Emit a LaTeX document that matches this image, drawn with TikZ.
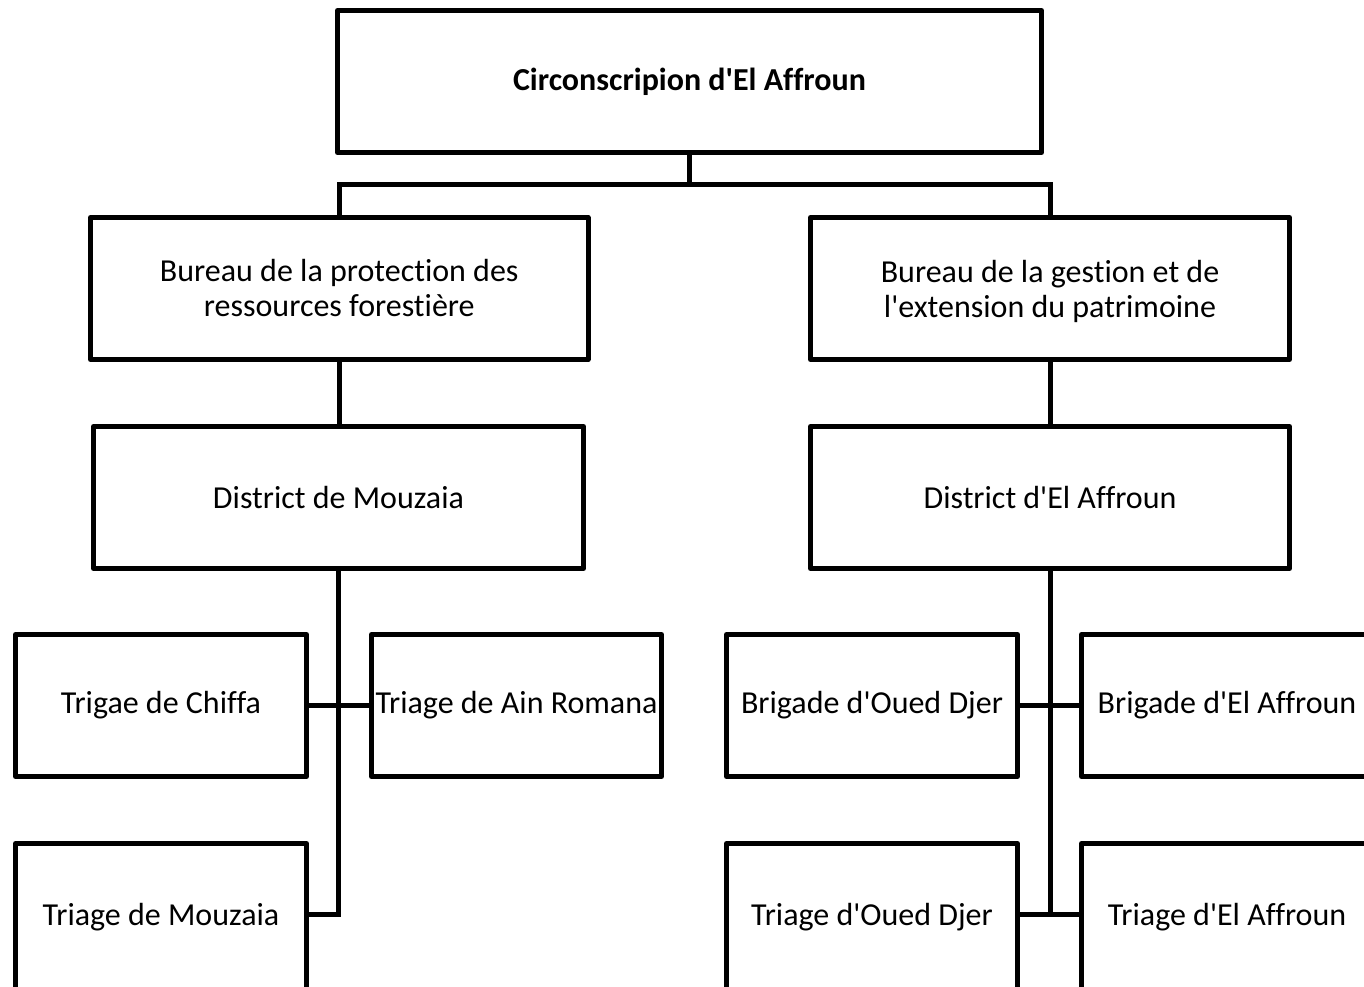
\documentclass[tikz,border=0pt]{standalone}
\usepackage{fontspec}
\setmainfont{Carlito}[Ligatures={TeXOff,NoCommon}]
\begin{document}
\begin{tikzpicture}[x=0.75pt,y=-0.75pt,
  box/.style={draw, line width=3.75pt, line join=round, outer sep=0pt, inner sep=0pt, align=center,
    font=\fontsize{24pt}{26.25pt}\selectfont},
  conn/.style={line width=3.75pt}]
\useasboundingbox (0,0) rectangle (1364,987);
\coordinate (r5) at (0,914);
\coordinate (j1) at (689.5,184.5);
% top
\node[box, minimum width=0.75*704pt, minimum height=0.75*142pt,
  font=\fontsize{24pt}{26.25pt}\selectfont\bfseries] (top) at (689.5,81.5) {Circonscripion d'El Affroun};
% row 2
\node[box, minimum width=0.75*497.5pt, minimum height=0.75*142pt] (b1) at (339.25,288.5)
  {Bureau de la protection des\\ressources forestière};
\node[box, minimum width=0.75*479pt, minimum height=0.75*142pt] (b2) at (1050,288.5)
  {Bureau de la gestion et de\\\raisebox{0pt}[\height][0pt]{l'extension du patrimoine}};
% row 3
\node[box, minimum width=0.75*490pt, minimum height=0.75*142pt] (d1) at (338.5,497.5) {District de Mouzaia};
\node[box, minimum width=0.75*479pt, minimum height=0.75*142pt] (d2) at (1050,497.5) {District d'El Affroun};
% row 4
\node[box, minimum width=0.75*291pt, minimum height=0.75*142pt] (t1) at (161,705.5) {Trigae de Chiffa};
\node[box, minimum width=0.75*290pt, minimum height=0.75*142pt] (t2) at (516.5,705.5) {Triage de Ain Romana};
\node[box, minimum width=0.75*291pt, minimum height=0.75*142pt] (g1) at (872,705.5) {Brigade d'Oued Djer};
\node[box, minimum width=0.75*291pt, minimum height=0.75*142pt] (g2) at (1227,705.5) {Brigade d'El Affroun};
% row 5 (cut by the lower edge)
\node[box, anchor=north, minimum width=0.75*291pt, minimum height=0.75*160pt] (t3) at (161,843.5)
  {\raisebox{14.25pt}{Triage de Mouzaia}};
\node[box, anchor=north, minimum width=0.75*291pt, minimum height=0.75*160pt] (t4) at (872,843.5)
  {\raisebox{14.25pt}{Triage d'Oued Djer}};
\node[box, anchor=north, minimum width=0.75*291pt, minimum height=0.75*160pt] (t5) at (1227,843.5)
  {\raisebox{14.25pt}{Triage d'El Affroun}};
% connectors
\draw[conn] (top.south) -- (j1);
\draw[conn] (b1.north) |- (j1) -| (b2.north);
\draw[conn] (b1.south) -- (b1.south |- d1.north);
\draw[conn] (b2.south) -- (d2.north);
\draw[conn] (d1.south) -- (d1.south |- r5) -- (t3.east |- r5);
\draw[conn] (t1.east) -- (t2.west);
\draw[conn] (d2.south) -- (d2.south |- r5);
\draw[conn] (g1.east) -- (g2.west);
\draw[conn] (t4.east |- r5) -- (t5.west |- r5);
\end{tikzpicture}
\end{document}
